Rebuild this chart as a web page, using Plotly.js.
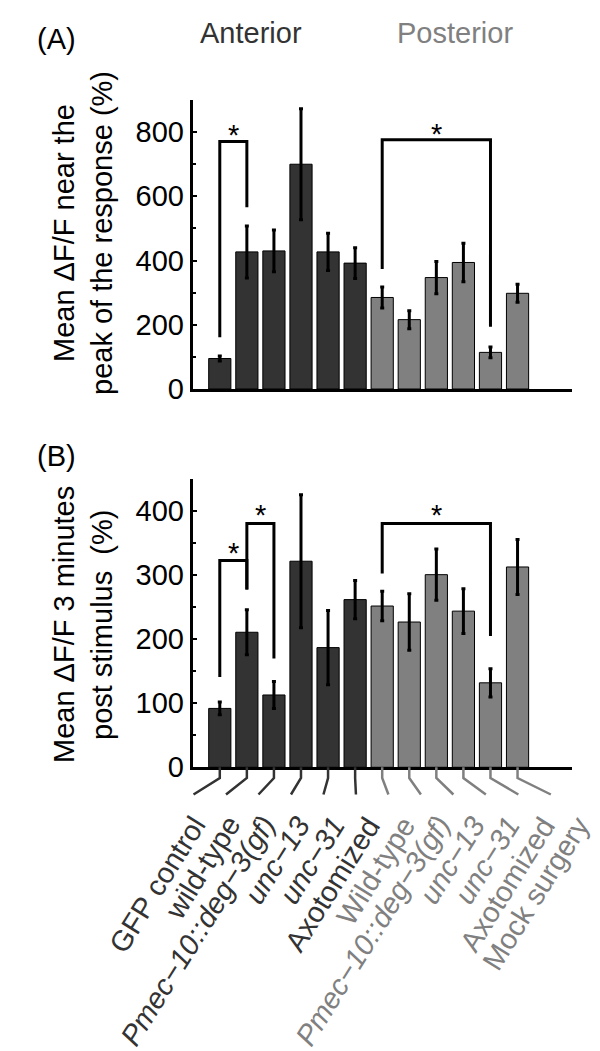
<!DOCTYPE html>
<html>
<head>
<meta charset="utf-8">
<script src="https://cdn.plot.ly/plotly-3.0.1.min.js"></script>
<style>html,body{margin:0;padding:0;background:#fff;}#chart{width:600px;height:1051px;}</style>
</head>
<body>
<div id="chart"></div>
<script>
// ---- data ----
const anteriorLabels = ['GFP control', 'wild-type', '<i>Pmec\u221210::deg\u22123(gf)</i>', '<i>unc\u221213</i>', '<i>unc\u221231</i>', 'Axotomized'];
const posteriorLabels = ['Wild-type', '<i>Pmec\u221210::deg\u22123(gf)</i>', '<i>unc\u221213</i>', '<i>unc\u221231</i>', 'Axotomized', 'Mock surgery'];

const peakAnterior = [95, 427, 430, 700, 427, 392];
const peakAnteriorErr = [8, 81, 65, 173, 58, 48];
const peakPosterior = [285, 216, 347, 394, 114, 298];
const peakPosteriorErr = [33, 28, 50, 60, 17, 28];

const postAnterior = [92, 211, 113, 322, 187, 262];
const postAnteriorErr = [10, 35, 21, 104, 58, 30];
const postPosterior = [252, 227, 301, 244, 132, 313];
const postPosteriorErr = [23, 44, 40, 35, 22, 43];

// significance brackets (bar index from/to, heights of left leg end, right leg end, top)
const sigPeakFrom = [0, 6];
const sigPeakTo = [1, 10];
const sigPeakLeft = [161, 374];
const sigPeakRight = [566, 194];
const sigPeakTop = [771, 776];

const sigPostFrom = [0, 1, 6];
const sigPostTo = [1, 2, 10];
const sigPostLeft = [141, 278, 303];
const sigPostRight = [278, 170, 205];
const sigPostTop = [323, 381, 381];

// ---- style ----
const FONT = 'Liberation Sans, Arial, Helvetica, sans-serif';
const DARK = '#333333';
const GREY = '#808080';
const H = 1051, W = 600;
const py = px => 1 - px / H;   // pixel row -> paper y
const pxX = px => px / W;      // pixel col -> paper x

const nA = anteriorLabels.length;
const xA = anteriorLabels.map((_, i) => i);
const xP = posteriorLabels.map((_, i) => i + nA);

function barTrace(x, y, err, color, xa, ya) {
  return {
    type: 'bar', x: x, y: y, xaxis: xa, yaxis: ya, width: 0.82,
    marker: {color: color, line: {color: '#000', width: 1}},
    error_y: {type: 'data', array: err, visible: true, color: '#000', thickness: 3, width: 2},
    hoverinfo: 'skip', showlegend: false
  };
}

const data = [
  barTrace(xA, peakAnterior, peakAnteriorErr, DARK, 'x', 'y'),
  barTrace(xP, peakPosterior, peakPosteriorErr, GREY, 'x', 'y'),
  barTrace(xA, postAnterior, postAnteriorErr, DARK, 'x2', 'y2'),
  barTrace(xP, postPosterior, postPosteriorErr, GREY, 'x2', 'y2')
];

const xDomain = [0.3212, 0.9528];
const topDomain = [py(389), py(100)];
const botDomain = [py(767.3), py(479.3)];

function xAxis(anchor) {
  return {domain: xDomain, range: [-1, 13], anchor: anchor, showline: true, linewidth: 3, linecolor: '#000',
    ticks: '', showticklabels: false, showgrid: false, zeroline: false, fixedrange: true};
}
function yAxis(anchor, domain, range, dtick) {
  return {domain: domain, range: range, anchor: anchor, showline: true, linewidth: 3, linecolor: '#000',
    ticks: 'inside', ticklen: 4, tickwidth: 2, tickcolor: '#000', dtick: dtick, tick0: 0,
    minor: {dtick: dtick / 2, ticks: 'inside', ticklen: 3, tickwidth: 2, tickcolor: '#000'},
    tickfont: {family: FONT, size: 29, color: '#000'}, showgrid: false, zeroline: false, fixedrange: true};
}

const shapes = [];
const annotations = [];

function addBrackets(from, to, left, right, top, xr, yr, starShift) {
  from.forEach((a, k) => {
    const b = to[k];
    shapes.push({type: 'path', xref: xr, yref: yr,
      path: `M ${a},${left[k]} L ${a},${top[k]} L ${b},${top[k]} L ${b},${right[k]}`,
      line: {color: '#000', width: 3}});
    annotations.push({xref: xr, yref: yr, x: (a + b) / 2, y: top[k], text: '*', showarrow: false,
      xanchor: 'center', yanchor: 'bottom', yshift: starShift, font: {family: FONT, size: 29, color: '#000'}});
  });
}
addBrackets(sigPeakFrom, sigPeakTo, sigPeakLeft, sigPeakRight, sigPeakTop, 'x', 'y', -12);
addBrackets(sigPostFrom, sigPostTo, sigPostLeft, sigPostRight, sigPostTop, 'x2', 'y2', -10);

// leader lines and rotated category labels under lower panel
const allLabels = anteriorLabels.concat(posteriorLabels);
allLabels.forEach((lab, i) => {
  const col = i < nA ? DARK : GREY;
  const yb = botDomain[0];
  const yBend = py(778), yEnd = py(794.5);
  const xEnd = i * 1.2 - 0.97;
  shapes.push({type: 'path', xref: 'x2', yref: 'paper',
    path: `M ${i},${yb} L ${i},${yBend} L ${xEnd},${yEnd}`,
    line: {color: col, width: 2.5}});
  annotations.push({xref: 'paper', yref: 'paper', x: pxX(214 + 35 * i), y: py(808), text: lab,
    showarrow: false, textangle: -58, xanchor: 'right', yanchor: 'top',
    font: {family: FONT, size: 29, color: col}});
});

// panel letters and headers
annotations.push({xref: 'paper', yref: 'paper', x: pxX(56), y: py(39), text: '(A)', showarrow: false,
  xanchor: 'center', yanchor: 'middle', font: {family: FONT, size: 29, color: '#000'}});
annotations.push({xref: 'paper', yref: 'paper', x: pxX(56), y: py(456), text: '(B)', showarrow: false,
  xanchor: 'center', yanchor: 'middle', font: {family: FONT, size: 29, color: '#000'}});
annotations.push({xref: 'paper', yref: 'paper', x: pxX(250.5), y: py(33), text: 'Anterior', showarrow: false,
  xanchor: 'center', yanchor: 'middle', font: {family: FONT, size: 29, color: DARK}});
annotations.push({xref: 'paper', yref: 'paper', x: pxX(455), y: py(33), text: 'Posterior', showarrow: false,
  xanchor: 'center', yanchor: 'middle', font: {family: FONT, size: 29, color: GREY}});

// y-axis titles (two lines each)
function yTitle(lines, cy) {
  const xs = [64, 102];
  lines.forEach((t, k) => {
    annotations.push({xref: 'paper', yref: 'paper', x: pxX(xs[k]), y: py(cy), text: t, showarrow: false,
      textangle: -90, xanchor: 'center', yanchor: 'middle', font: {family: FONT, size: 29, color: '#000'}});
  });
}
yTitle(['Mean \u0394F/F near the', 'peak of the response (%)'], 233);
yTitle(['Mean \u0394F/F 3 minutes', 'post stimulus\u00a0\u00a0(%)'], 625);

const layout = {
  width: W, height: H, margin: {l: 0, r: 0, t: 0, b: 0},
  paper_bgcolor: '#fff', plot_bgcolor: '#fff', showlegend: false, barmode: 'overlay',
  font: {family: FONT, size: 29, color: '#000'},
  xaxis: xAxis('y'),
  yaxis: yAxis('x', topDomain, [0, 900], 200),
  xaxis2: xAxis('y2'),
  yaxis2: yAxis('x2', botDomain, [0, 450], 100),
  shapes: shapes, annotations: annotations
};

Plotly.newPlot('chart', data, layout, {staticPlot: true, displayModeBar: false});
</script>
</body>
</html>
